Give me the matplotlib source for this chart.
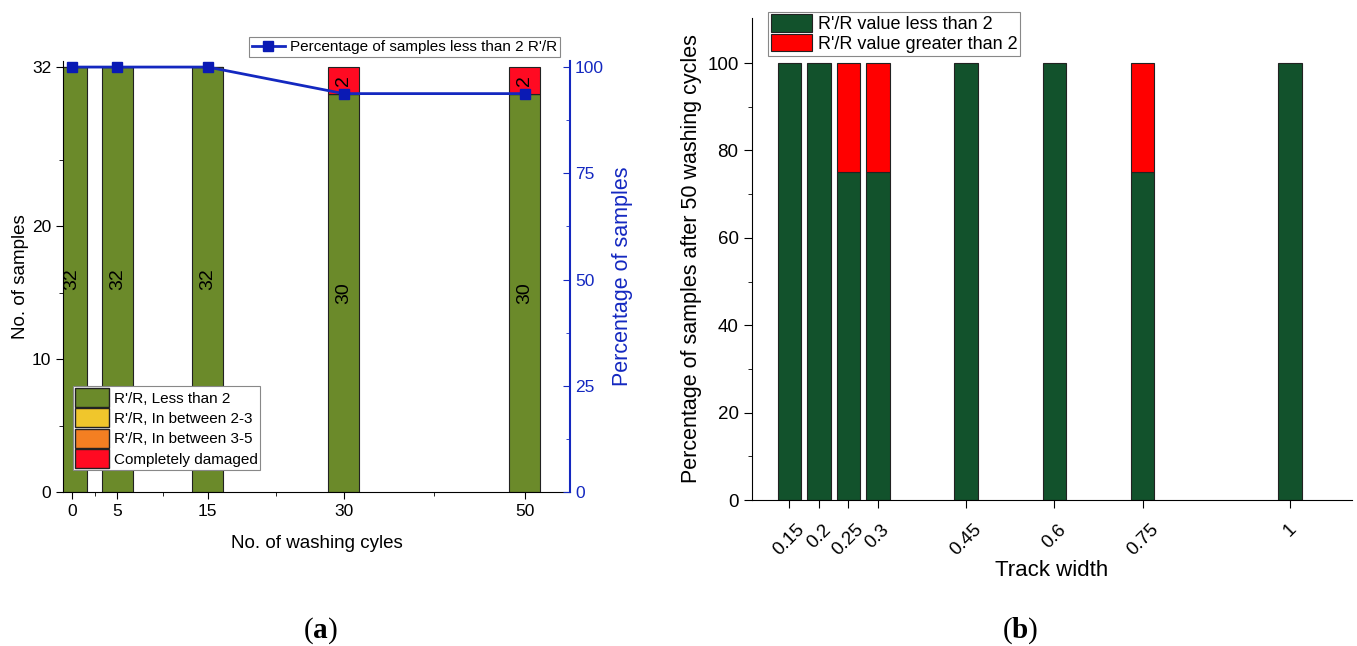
import numpy as np
import matplotlib.pyplot as plt
from matplotlib.ticker import FixedLocator
from matplotlib.lines import Line2D
from matplotlib.patches import Patch

plt.rcParams['font.family'] = ['Liberation Sans', 'DejaVu Sans']
plt.rcParams['mathtext.fontset'] = 'custom'
plt.rcParams['mathtext.rm'] = 'Liberation Serif'
plt.rcParams['mathtext.bf'] = 'Liberation Serif:bold'

# panel (a)
cycles = [0, 5, 15, 30, 50]
less_than_2 = [32, 32, 32, 30, 30]
between_2_3 = [0, 0, 0, 0, 0]
between_3_5 = [0, 0, 0, 0, 0]
damaged = [0, 0, 0, 2, 2]
pct_less_2 = [100, 100, 100, 93.75, 93.75]

# panel (b)
track_width = [0.15, 0.2, 0.25, 0.3, 0.45, 0.6, 0.75, 1.0]
track_labels = ['0.15', '0.2', '0.25', '0.3', '0.45', '0.6', '0.75', '1']
pct_ok = [100, 100, 75, 75, 100, 100, 75, 100]
pct_bad = [0, 0, 25, 25, 0, 0, 25, 0]

OLIVE = '#6b8a2a'
YELLOW = '#f0c62c'
ORANGE = '#f47f22'
RED_A = '#ff0a22'
BLUE = '#1428c0'
DKGREEN = '#12522c'

fig = plt.figure(figsize=(13.57, 6.46), dpi=100)

# ---- (a)
ax = fig.add_axes([0.0464, 0.2384, 0.3737, 0.667])
w = 3.4
ax.bar(cycles, less_than_2, w, color=OLIVE, edgecolor='#222222', lw=0.8)
bot = np.array(less_than_2)
ax.bar(cycles, between_2_3, w, bottom=bot, color=YELLOW, edgecolor='#222222', lw=0.8)
bot = bot + np.array(between_2_3)
ax.bar(cycles, between_3_5, w, bottom=bot, color=ORANGE, edgecolor='#222222', lw=0.8)
bot = bot + np.array(between_3_5)
dm = [d if d > 0 else np.nan for d in damaged]
ax.bar(cycles, dm, w, bottom=bot, color=RED_A, edgecolor='#222222', lw=0.8)

for x, v, d in zip(cycles, less_than_2, damaged):
    ax.text(x, v / 2, str(v), rotation=90, ha='center', va='center', fontsize=14)
    if d > 0:
        ax.text(x, v + d / 2, str(d), rotation=90, ha='center', va='center', fontsize=14)

ax.set_xlim(-1, 55)
ax.set_ylim(0, 32.45)
ax.set_xticks(cycles)
ax.xaxis.set_minor_locator(FixedLocator([2.5, 10, 22.5, 40]))
ax.set_yticks([0, 10, 20, 32])
ax.yaxis.set_minor_locator(FixedLocator([5, 15, 25]))
ax.tick_params(which='both', direction='out', labelsize=12.5)
ax.tick_params(which='major', length=5)
ax.tick_params(which='minor', length=3)
ax.spines['top'].set_visible(False)
ax.spines['right'].set_visible(False)
ax.set_xlabel('No. of washing cyles', fontsize=13.5, labelpad=12)
ax.set_ylabel('No. of samples', fontsize=13.5, labelpad=2)

handles = [Patch(facecolor=OLIVE, edgecolor='#222222'),
           Patch(facecolor=YELLOW, edgecolor='#222222'),
           Patch(facecolor=ORANGE, edgecolor='#222222'),
           Patch(facecolor=RED_A, edgecolor='#222222')]
labels = ["R'/R, Less than 2", "R'/R, In between 2-3", "R'/R, In between 3-5", 'Completely damaged']
leg = ax.legend(handles, labels, loc='lower left', bbox_to_anchor=(0.02, 0.05),
                fontsize=11, handlelength=2.2, handleheight=1.55, labelspacing=0.08,
                handletextpad=0.3, borderpad=0.15, borderaxespad=0, fancybox=False,
                edgecolor='#888888', framealpha=1)
leg.get_frame().set_linewidth(0.8)

ax2 = ax.twinx()
ax2.plot(cycles, pct_less_2, color=BLUE, lw=2, marker='s', ms=7,
         mfc='#0a1ab4', mec='#0a1ab4')
ax2.set_ylim(0, 101.4)
ax2.set_yticks([0, 25, 50, 75, 100])
ax2.yaxis.set_minor_locator(FixedLocator([12.5, 37.5, 62.5, 87.5]))
ax2.tick_params(which='both', direction='in', colors=BLUE, labelsize=12.5)
ax2.tick_params(which='major', length=5)
ax2.tick_params(which='minor', length=3)
ax2.spines['right'].set_color(BLUE)
ax2.spines['right'].set_linewidth(1.5)
ax2.spines['top'].set_visible(False)
ax2.spines['left'].set_visible(False)
ax2.spines['bottom'].set_visible(False)
ax2.set_ylabel('Percentage of samples', color=BLUE, fontsize=15.5, labelpad=6)

lh = [Line2D([0], [0], color=BLUE, lw=2, marker='s', ms=7, mfc='#0a1ab4', mec='#0a1ab4')]
leg2 = fig.legend(lh, ["Percentage of samples less than 2 R'/R"], loc='lower right',
                  bbox_to_anchor=(0.4127, 0.9118), fontsize=11, handlelength=2.2,
                  handletextpad=0.3, borderpad=0.2, borderaxespad=0, fancybox=False,
                  edgecolor='#888888', framealpha=1)
leg2.get_frame().set_linewidth(0.8)

# ---- (b)
bx = fig.add_axes([0.554, 0.226, 0.442, 0.746])
bw = 0.04
bx.bar(track_width, pct_ok, bw, color=DKGREEN, edgecolor='#222222', lw=0.8,
       label="R'/R value less than 2")
pb = [p if p > 0 else np.nan for p in pct_bad]
bx.bar(track_width, pb, bw, bottom=pct_ok, color='#ff0000', edgecolor='#222222', lw=0.8,
       label="R'/R value greater than 2")
bx.set_xlim(0.086, 1.105)
bx.set_ylim(0, 110.3)
bx.set_xticks(track_width)
bx.set_xticklabels(track_labels, rotation=45, ha='center', va='top')
bx.set_yticks([0, 20, 40, 60, 80, 100])
bx.yaxis.set_minor_locator(FixedLocator([10, 30, 50, 70, 90]))
bx.tick_params(which='both', direction='out', labelsize=13.5)
bx.tick_params(which='major', length=6)
bx.tick_params(which='minor', length=3)
bx.tick_params(axis='x', pad=9)
bx.spines['top'].set_visible(False)
bx.spines['right'].set_visible(False)
bx.set_xlabel('Track width', fontsize=16, labelpad=1)
bx.set_ylabel('Percentage of samples after 50 washing cycles', fontsize=15.5, labelpad=4)
leg3 = bx.legend(loc='upper left', bbox_to_anchor=(0.566, 0.982),
                 bbox_transform=fig.transFigure, fontsize=13, handlelength=2.3,
                 handleheight=1.1, labelspacing=0.05, handletextpad=0.3, borderpad=0.15,
                 borderaxespad=0, fancybox=False, edgecolor='#888888', framealpha=1)
leg3.get_frame().set_linewidth(0.8)

fig.text(0.236, 0.0, r'($\mathbf{a}$)', ha='center', va='bottom', fontsize=21,
         family='Liberation Serif')
fig.text(0.752, 0.0, r'($\mathbf{b}$)', ha='center', va='bottom', fontsize=21,
         family='Liberation Serif')

fig.savefig('out.png', dpi=100)
